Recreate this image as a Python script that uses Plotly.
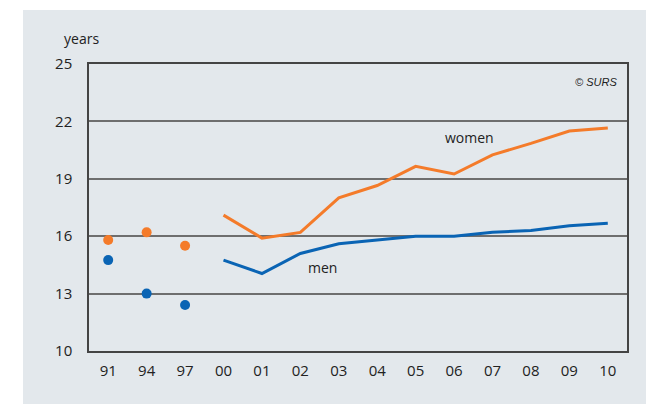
import plotly.graph_objects as go

years = ['91', '94', '97', '00', '01', '02', '03', '04', '05', '06', '07', '08', '09', '10']

# survey years (points only)
dot_years = ['91', '94', '97']
women_dots = [15.8, 16.2, 15.5]
men_dots = [14.75, 13.0, 12.4]

# yearly series
line_years = ['00', '01', '02', '03', '04', '05', '06', '07', '08', '09', '10']
women_line = [17.1, 15.9, 16.2, 18.0, 18.65, 19.65, 19.25, 20.25, 20.85, 21.5, 21.65]
men_line = [14.75, 14.05, 15.1, 15.6, 15.8, 16.0, 16.0, 16.2, 16.3, 16.55, 16.68]

orange = '#F47B2A'
blue = '#0A64B4'
bg = '#E3E8EC'
font = 'Open Sans, Noto Sans, sans-serif'

fig = go.Figure()
fig.add_trace(go.Scatter(x=line_years, y=women_line, mode='lines',
                         line=dict(color=orange, width=3), showlegend=False))
fig.add_trace(go.Scatter(x=line_years, y=men_line, mode='lines',
                         line=dict(color=blue, width=3), showlegend=False))
fig.add_trace(go.Scatter(x=dot_years, y=women_dots, mode='markers',
                         marker=dict(color=orange, size=10), showlegend=False))
fig.add_trace(go.Scatter(x=dot_years, y=men_dots, mode='markers',
                         marker=dict(color=blue, size=10), showlegend=False))

W, H = 646, 404
L, R, T, B = 89, 19, 64, 53
pw, ph = W - L - R, H - T - B

# grey panel behind everything (white strip only at left and top)
fig.add_shape(type='rect', xref='paper', yref='paper', layer='below',
              x0=(23 - L) / pw, x1=(W + 10 - L) / pw,
              y0=-(B + 10) / ph, y1=(H - B - 10) / ph,
              fillcolor=bg, line_width=0)

# category index positions for the labels
fig.add_annotation(x=9.4, y=21.15, text='women', showarrow=False,
                   font=dict(size=14, color='#222', family=font))
fig.add_annotation(x=5.58, y=14.35, text='men', showarrow=False,
                   font=dict(size=14, color='#222', family=font))
fig.add_annotation(xref='paper', yref='paper', x=0.985, y=0.965, text='<i>© SURS</i>',
                   showarrow=False, xanchor='right', yanchor='top',
                   font=dict(size=11, color='#222', family='Liberation Sans, Arial, sans-serif'))
fig.add_annotation(xref='paper', yref='paper', x=(62 - L) / pw, y=(351 - 38) / ph,
                   text='years', showarrow=False, xanchor='left', yanchor='middle',
                   font=dict(size=14, color='#222', family=font))

fig.update_xaxes(type='category', categoryorder='array', categoryarray=years,
                 range=[-0.5, 13.5], showgrid=False, showline=True, linecolor='#444',
                 linewidth=1.5, mirror=True, ticks='', ticklabelstandoff=5,
                 tickfont=dict(size=15, color='#222', family=font))
fig.update_yaxes(range=[10, 25], tickvals=[10, 13, 16, 19, 22, 25], showgrid=True,
                 gridcolor='#6E6E6E', gridwidth=1.5, showline=True, linecolor='#444',
                 linewidth=1.5, mirror=True, ticks='', zeroline=False, ticklabelstandoff=12,
                 tickfont=dict(size=15, color='#222', family=font))

fig.update_layout(width=W, height=H, margin=dict(l=L, r=R, t=T, b=B),
                  paper_bgcolor='white', plot_bgcolor='rgba(0,0,0,0)')

# drop the default 8px body margin so the figure fills the window
fig.write_html('out.html', config={'displayModeBar': False},
               post_script="document.body.style.margin='0';document.body.style.overflow='hidden';")
